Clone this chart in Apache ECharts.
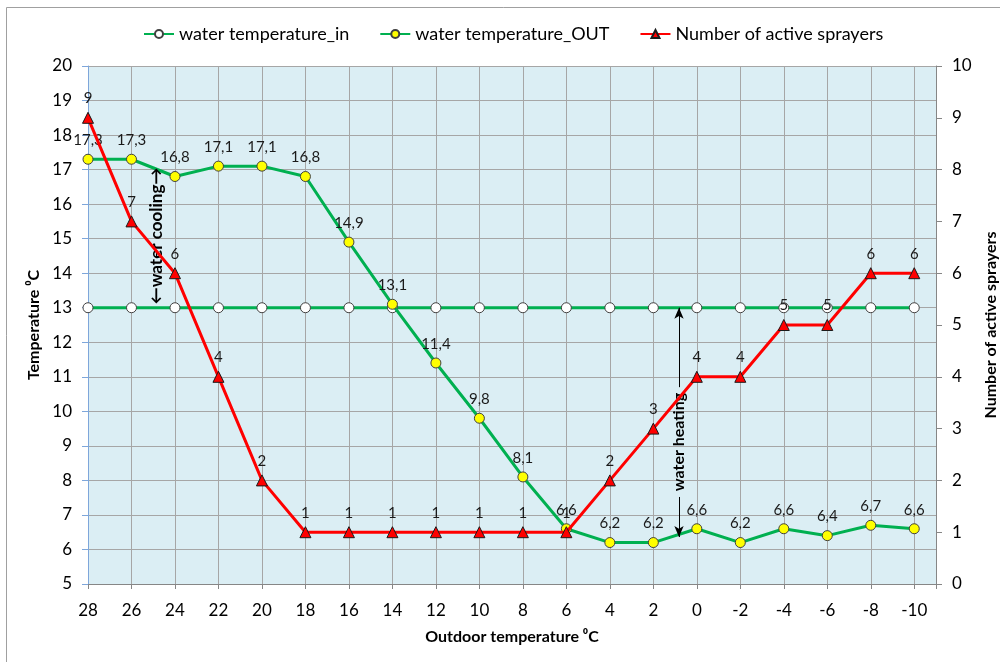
<!DOCTYPE html>
<html>
<head>
<meta charset="utf-8">
<script src="https://cdn.jsdelivr.net/npm/echarts@6/dist/echarts.min.js"></script>
<style>
  html, body { margin: 0; padding: 0; background: #ffffff; }
  #chart { width: 1000px; height: 662px; }
</style>
</head>
<body>
<div id="chart"></div>
<script>
// Outdoor temperature (°C) along the horizontal axis
const outdoorTemp = [28, 26, 24, 22, 20, 18, 16, 14, 12, 10, 8, 6, 4, 2, 0, -2, -4, -6, -8, -10];
// Water temperature entering the sprayers (°C)
const waterTempIn = [13, 13, 13, 13, 13, 13, 13, 13, 13, 13, 13, 13, 13, 13, 13, 13, 13, 13, 13, 13];
// Water temperature leaving the sprayers (°C)
const waterTempOut = [17.3, 17.3, 16.8, 17.1, 17.1, 16.8, 14.9, 13.1, 11.4, 9.8, 8.1, 6.6, 6.2, 6.2, 6.6, 6.2, 6.6, 6.4, 6.7, 6.6];
// Number of sprayers running
const activeSprayers = [9, 7, 6, 4, 2, 1, 1, 1, 1, 1, 1, 1, 2, 3, 4, 4, 5, 5, 6, 6];

const FONT = 'Lato, "Open Sans", sans-serif';
const GREEN = '#00B050';
const RED = '#FF0000';
const PLOT_BG = '#DBEEF4';
const GRID_GRAY = '#A6A6A6';

const pairs = (ys) => outdoorTemp.map((x, i) => [x, ys[i]]);
const comma = (v) => v.toFixed(1).replace('.', ',');
// vertical grid lines: one per outdoor temperature plus the right edge
const xGridValues = outdoorTemp.concat([-11]);

// where the two annotations sit, in axis units (outdoor °C, water °C)
const heatingX = 0.82;
const coolingNote = [24.83, 15.08];
const heatingNote = [heatingX, 9.11];

const chart = echarts.init(document.getElementById('chart'), null, { renderer: 'canvas' });

const noteText = (text, size) => ({
  show: true, position: 'inside', rotate: 90, formatter: text,
  fontFamily: FONT, fontSize: size, fontWeight: 'bold', color: '#000000'
});
const invisibleDot = { symbol: 'circle', symbolSize: 2, itemStyle: { color: 'rgba(0,0,0,0)', borderWidth: 0 } };

chart.setOption({
  backgroundColor: '#ffffff',
  animation: false,
  textStyle: { fontFamily: FONT },
  graphic: [{
    type: 'rect',
    shape: { x: 6.5, y: 7.5, width: 1100, height: 800 },
    style: { fill: 'none', stroke: '#A0A0A0', lineWidth: 1 },
    silent: true, z: -10
  }],
  legend: {
    top: 20,
    left: 138,
    itemGap: 30,
    itemWidth: 30,
    itemHeight: 10,
    textStyle: { fontFamily: FONT, fontSize: 18, color: '#000000' },
    data: ['water temperature_in', 'water temperature_OUT', 'Number of active sprayers']
  },
  grid: {
    left: 88, right: 64, top: 66, bottom: 78,
    containLabel: false,
    outerBoundsMode: 'none',
    show: true, backgroundColor: PLOT_BG, borderWidth: 0
  },
  xAxis: {
    type: 'value',
    inverse: true,
    min: -11,
    max: 28,
    name: 'Outdoor temperature \u2070C',
    nameLocation: 'middle',
    nameGap: 45,
    nameTextStyle: { fontFamily: FONT, fontSize: 16, fontWeight: 'bold', color: '#000000' },
    axisLine: { show: true, onZero: false, lineStyle: { color: '#868686', width: 1 } },
    axisTick: { show: true, inside: false, length: 5, customValues: xGridValues, lineStyle: { color: '#868686' } },
    axisLabel: {
      fontFamily: FONT, fontSize: 17, color: '#000000', margin: 18,
      customValues: outdoorTemp,
      showMinLabel: true, showMaxLabel: true
    },
    splitLine: { show: true, customValues: xGridValues, lineStyle: { color: GRID_GRAY, width: 1 } }
  },
  yAxis: [{
    type: 'value',
    min: 5, max: 20, interval: 1,
    position: 'left',
    name: 'Temperature \u2070C',
    nameLocation: 'middle',
    nameGap: 44,
    nameRotate: 90,
    nameTextStyle: { fontFamily: FONT, fontSize: 16, fontWeight: 'bold', color: '#000000' },
    axisLine: { show: true, onZero: false, lineStyle: { color: '#7EA6DA', width: 1 } },
    axisTick: { show: true, inside: false, length: 6, lineStyle: { color: '#7EA6DA' } },
    axisLabel: { fontFamily: FONT, fontSize: 17, color: '#000000', margin: 16 },
    splitLine: { show: true, lineStyle: { color: GRID_GRAY, width: 1 } }
  }, {
    type: 'value',
    min: 0, max: 10, interval: 1,
    position: 'right',
    name: 'Number of active sprayers',
    nameLocation: 'middle',
    nameGap: 30,
    nameRotate: 90,
    nameTextStyle: { fontFamily: FONT, fontSize: 16, fontWeight: 'bold', color: '#000000' },
    axisLine: { show: true, onZero: false, lineStyle: { color: '#868686', width: 1 } },
    axisTick: { show: true, inside: false, length: 6, lineStyle: { color: '#868686' } },
    axisLabel: { fontFamily: FONT, fontSize: 17, color: '#000000', margin: 16 },
    splitLine: { show: false }
  }],
  series: [{
    name: 'water temperature_in',
    type: 'line',
    yAxisIndex: 0,
    data: pairs(waterTempIn),
    symbol: 'circle',
    symbolSize: 10,
    lineStyle: { color: GREEN, width: 3 },
    itemStyle: { color: '#ffffff', borderColor: '#404040', borderWidth: 1 },
    z: 3,
    // "water heating" arrows between the inlet line and the outlet minimum
    markLine: {
      silent: true,
      symbol: ['none', 'arrow'],
      symbolSize: [7, 11],
      lineStyle: { color: '#000000', width: 1, type: 'solid' },
      label: { show: false },
      data: [
        [{ coord: [heatingX, 10.7] }, { coord: [heatingX, 13] }],
        [{ coord: [heatingX, 7.52] }, { coord: [heatingX, 6.36] }]
      ]
    },
    markPoint: Object.assign({
      silent: true,
      label: noteText('water heating', 16),
      data: [{ coord: heatingNote }]
    }, invisibleDot)
  }, {
    name: 'water temperature_OUT',
    type: 'line',
    yAxisIndex: 0,
    data: pairs(waterTempOut),
    symbol: 'circle',
    symbolSize: 10,
    lineStyle: { color: GREEN, width: 3 },
    itemStyle: { color: '#FFFF00', borderColor: '#404040', borderWidth: 1 },
    label: {
      show: true, position: 'top', distance: 6,
      fontFamily: FONT, fontSize: 15, color: '#1a1a1a',
      formatter: (p) => comma(p.value[1])
    },
    z: 4,
    // "water cooling" note between the inlet line and the outlet plateau
    markPoint: Object.assign({
      silent: true,
      label: noteText('\u2190water cooling\u2192', 17),
      data: [{ coord: coolingNote }]
    }, invisibleDot)
  }, {
    name: 'Number of active sprayers',
    type: 'line',
    yAxisIndex: 1,
    data: pairs(activeSprayers),
    symbol: 'triangle',
    symbolSize: 11,
    lineStyle: { color: RED, width: 3 },
    itemStyle: { color: RED, borderColor: '#1a1a1a', borderWidth: 1 },
    label: {
      show: true, position: 'top', distance: 6,
      fontFamily: FONT, fontSize: 15, color: '#1a1a1a',
      formatter: (p) => String(p.value[1])
    },
    z: 5
  }]
});
</script>
</body>
</html>
